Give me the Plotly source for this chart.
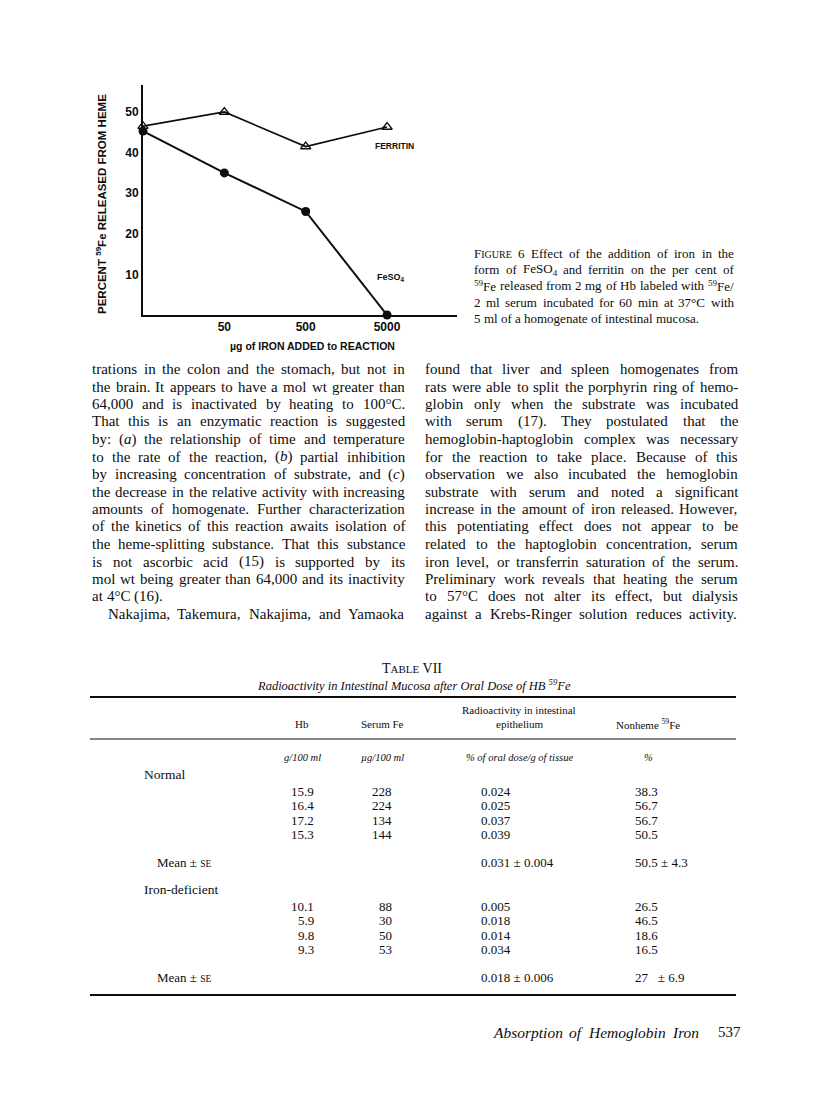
import re
import plotly.graph_objects as go

# Figure 6: per cent 59Fe released from heme vs iron added
iron_added = ['0', '50', '500', '5000']
ferritin_pct = [46.5, 50.0, 41.5, 46.3]
feso4_pct = [45.3, 35.0, 25.5, 0.0]
y_ticks = [10, 20, 30, 40, 50]

# Table VII
normal_hb = ['15.9', '16.4', '17.2', '15.3']
normal_serum_fe = ['228', '224', '134', '144']
normal_radio = ['0.024', '0.025', '0.037', '0.039']
normal_nonheme = ['38.3', '56.7', '56.7', '50.5']
normal_mean = ['0.031 ± 0.004', '50.5 ± 4.3']
deficient_hb = ['10.1', '5.9', '9.8', '9.3']
deficient_serum_fe = ['88', '30', '50', '53']
deficient_radio = ['0.005', '0.018', '0.014', '0.034']
deficient_nonheme = ['26.5', '46.5', '18.6', '16.5']
deficient_mean = ['0.018 ± 0.006', '27\u00a0\u00a0\u00a0± 6.9']

caption = [
    "F<span style='font-size:10px'>IGURE</span> 6  Effect of the addition of iron in the",
    'form of FeSO<sub>4</sub> and ferritin on the per cent of',
    '<sup>59</sup>Fe released from 2 mg of Hb labeled with <sup>59</sup>Fe/',
    '2 ml serum incubated for 60 min at 37°C with',
    '5 ml of a homogenate of intestinal mucosa.',
]

left_col = [
    'trations in the colon and the stomach, but not in',
    'the brain. It appears to have a mol wt greater than',
    '64,000 and is inactivated by heating to 100°C.',
    'That this is an enzymatic reaction is suggested',
    'by: (<i>a</i>) the relationship of time and temperature',
    'to the rate of the reaction, (<i>b</i>) partial inhibition',
    'by increasing concentration of substrate, and (<i>c</i>)',
    'the decrease in the relative activity with increasing',
    'amounts of homogenate. Further characterization',
    'of the kinetics of this reaction awaits isolation of',
    'the heme-splitting substance. That this substance',
    'is not ascorbic acid (15) is supported by its',
    'mol wt being greater than 64,000 and its inactivity',
    'at 4°C (16).',
    'Nakajima, Takemura, Nakajima, and Yamaoka',
]
right_col = [
    'found that liver and spleen homogenates from',
    'rats were able to split the porphyrin ring of hemo-',
    'globin only when the substrate was incubated',
    'with serum (17). They postulated that the',
    'hemoglobin-haptoglobin complex was necessary',
    'for the reaction to take place. Because of this',
    'observation we also incubated the hemoglobin',
    'substrate with serum and noted a significant',
    'increase in the amount of iron released. However,',
    'this potentiating effect does not appear to be',
    'related to the haptoglobin concentration, serum',
    'iron level, or transferrin saturation of the serum.',
    'Preliminary work reveals that heating the serum',
    'to 57°C does not alter its effect, but dialysis',
    'against a Krebs-Ringer solution reduces activity.',
]

INK = '#0d0d0d'
SERIF = 'Liberation Serif'
SANS = 'Liberation Sans'

# page pixel -> paper coords (body has an 8px margin)
OX, OY, FW, FH = 8, 8, 800, 1084


def X(px):
    return (px - OX) / FW


def Y(py):
    return 1 - (py - OY) / FH


# Times metrics (Liberation Serif is metric compatible)
TIMES = dict(zip('abcdefghijklmnopqrstuvwxyz',
                 [444, 500, 444, 500, 444, 333, 500, 500, 278, 278, 500, 278, 778,
                  500, 500, 500, 500, 333, 389, 278, 500, 500, 722, 500, 500, 444]))
TIMES.update(zip('ABCDEFGHIJKLMNOPQRSTUVWXYZ',
                 [722, 667, 667, 722, 611, 556, 722, 722, 333, 389, 722, 611, 889,
                  722, 722, 556, 722, 667, 556, 611, 722, 722, 944, 722, 722, 611]))
TIMES.update({c: 500 for c in '0123456789'})
TIMES.update({' ': 250, '.': 250, ',': 250, ':': 278, ';': 278, '-': 333, '(': 333,
              ')': 333, '°': 400, '/': 278, '%': 833, '±': 564})

annotations = []


def txt(s, px, py, size=15, anchor='left', family=SERIF, weight='normal', angle=0):
    annotations.append(dict(
        text=s, x=X(px), y=Y(py), xref='paper', yref='paper', showarrow=False,
        xanchor=anchor, yanchor='middle', textangle=angle, borderpad=0,
        font=dict(family=family, size=size, color=INK, weight=weight)))


def width(s, size):
    # rough width of a word, taking sup/sub and small-cap spans into account
    total, scale = 0, 1
    for part in re.split(r'(<[^>]+>)', s):
        if part.startswith('</'):
            scale = 1
        elif part.startswith('<'):
            m = re.search(r'font-size:([\d.]+)px', part)
            if m:
                scale = float(m.group(1)) / size
            elif part in ('<sup>', '<sub>'):
                scale = 0.7
        else:
            total += sum(TIMES.get(c, 500) for c in part) * size * scale / 1000
    return total


def line(s, x0, x1, py, size, justify=True):
    # split on spaces that are not inside a tag
    words = [w for w in re.split(r' (?![^<]*>)', s) if w]
    ws = [width(w, size) for w in words]
    gap = (x1 - x0 - sum(ws)) / (len(words) - 1) if justify and len(words) > 1 else 0.25 * size
    x = x0
    for w, wd in zip(words, ws):
        txt(w, x, py, size)
        x += wd + gap


fig = go.Figure()

x_pos = list(range(len(iron_added)))
fig.add_trace(go.Scatter(
    x=x_pos, y=feso4_pct, mode='lines+markers', cliponaxis=False,
    line=dict(color=INK, width=2),
    marker=dict(symbol='circle', size=9, color=INK)))
fig.add_trace(go.Scatter(
    x=x_pos, y=ferritin_pct, mode='lines+markers', cliponaxis=False,
    line=dict(color=INK, width=1.7),
    marker=dict(symbol='triangle-up-open', size=9, color=INK, line=dict(width=1.3))))

# chart labels
txt('FERRITIN', 394, 146, size=8.5, anchor='center', family=SANS, weight='bold')
txt('FeSO<sub>4</sub>', 391, 277, size=9, anchor='center', family=SANS, weight='bold')
txt('PERCENT <sup>59</sup>Fe RELEASED FROM HEME', 101, 204, size=11.5,
    anchor='center', family=SANS, weight='bold', angle=-90)
txt('µg of IRON ADDED to REACTION', 312, 346, size=10.5, anchor='center',
    family=SANS, weight='bold')

# figure caption
for i, s in enumerate(caption):
    line(s, 473, 733, 253 + i * 16.5, 13, justify=i < len(caption) - 1)

# body text
for i, s in enumerate(left_col):
    if i == 13:
        line(s, 91, 404, 369 + i * 17.5, 15, justify=False)
    elif i == 14:
        line(s, 107, 404, 369 + i * 17.5, 15)
    else:
        line(s, 91, 404, 369 + i * 17.5, 15)
for i, s in enumerate(right_col):
    line(s, 424, 737, 369 + i * 17.5, 15)

# table
txt("T<span style='font-size:11px'>ABLE</span> VII", 412, 668, size=14, anchor='center')
txt('<i>Radioactivity in Intestinal Mucosa after Oral Dose of HB <sup>59</sup>Fe</i>',
    414, 685, size=12.5, anchor='center')
txt('Radioactivity in intestinal', 519, 710, size=11, anchor='center')
for s, cx in [('Hb', 302), ('Serum Fe', 382), ('epithelium', 519), ('Nonheme <sup>59</sup>Fe', 648)]:
    txt(s, cx, 724, size=11, anchor='center')
for s, cx in [('g/100 ml', 302), ('µg/100 ml', 382), ('% of oral dose/g of tissue', 519), ('%', 648)]:
    txt('<i>' + s + '</i>', cx, 757, size=10.5, anchor='center')


def block(label, top, hb, fe, radio, nonheme, mean):
    txt(label, 143, top, size=13.5)
    for k in range(len(hb)):
        yy = top + 17 + k * 14.6
        txt(hb[k], 315, yy, size=13, anchor='right')
        txt(fe[k], 393, yy, size=13, anchor='right')
        txt(radio[k], 480, yy, size=13)
        txt(nonheme[k], 634, yy, size=13)
    my = top + 88
    txt("Mean ± <span style='font-size:9.5px'>SE</span>", 156, my, size=13)
    txt(mean[0], 480, my, size=13)
    txt(mean[1], 634, my, size=13)


block('Normal', 774, normal_hb, normal_serum_fe, normal_radio, normal_nonheme, normal_mean)
block('Iron-deficient', 889, deficient_hb, deficient_serum_fe, deficient_radio,
      deficient_nonheme, deficient_mean)

shapes = []
for yy, w in [(697, 2), (739, 1), (995, 2.2)]:
    shapes.append(dict(type='line', xref='paper', yref='paper', x0=X(90), x1=X(736),
                       y0=Y(yy), y1=Y(yy), line=dict(color=INK, width=w)))

# running footer
line('<i>Absorption</i> <i>of</i> <i>Hemoglobin</i> <i>Iron</i>', 492, 697, 1032, 15.5)
txt('537', 717, 1032, size=15)

fig.update_layout(
    width=FW, height=FH,
    margin=dict(l=0, r=0, t=0, b=0),
    paper_bgcolor='white', plot_bgcolor='white',
    showlegend=False,
    annotations=annotations, shapes=shapes,
    xaxis=dict(domain=[X(143), X(457)], range=[0, 3.86], showline=True,
               linecolor=INK, linewidth=2, ticks='', showgrid=False, zeroline=False,
               tickvals=x_pos[1:], ticktext=iron_added[1:],
               tickfont=dict(family=SANS, size=12, color=INK, weight='bold')),
    yaxis=dict(domain=[Y(315), Y(85)], range=[0, 56.65], showline=True,
               linecolor=INK, linewidth=2, ticks='', showgrid=False, zeroline=False,
               tickvals=y_ticks,
               tickfont=dict(family=SANS, size=12, color=INK, weight='bold')),
)

fig.write_html('out.html')
